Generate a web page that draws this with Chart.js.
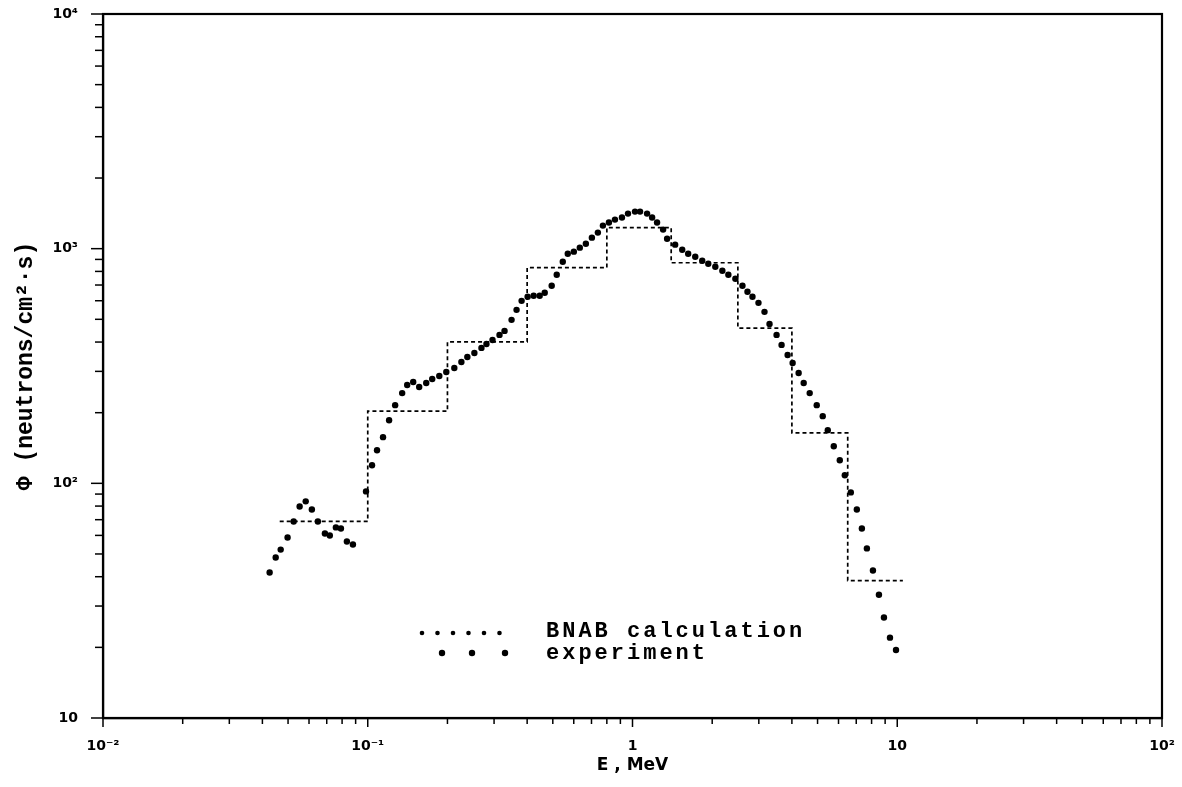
<!DOCTYPE html>
<html>
<head>
<meta charset="utf-8">
<script src="https://cdn.jsdelivr.net/npm/chart.js@4.4.1/dist/chart.umd.min.js"></script>
<style>
  html, body { margin: 0; padding: 0; background: #fff; }
  #wrap { width: 1182px; height: 787px; }
</style>
</head>
<body>
<div id="wrap"><canvas id="myChart" width="1182" height="787"></canvas></div>
<script>
// BNAB group boundaries (MeV) and group flux
var groupBounds = [0.0465, 0.1, 0.2, 0.4, 0.8, 1.4, 2.5, 4.0, 6.5, 10.5];
var groupFlux = [68.8, 203, 401, 830, 1230, 871, 459, 164, 38.5];

// experiment points
var expEnergy = [0.0426, 0.0449, 0.0469, 0.0498, 0.0525, 0.0553, 0.0583, 0.0615, 0.0648, 0.0689, 0.0719, 0.0758, 0.0792, 0.0834, 0.0879,
  0.0985, 0.1038, 0.1084, 0.1142, 0.1204, 0.1269, 0.1349, 0.1409, 0.1485, 0.1564, 0.1663, 0.1752, 0.1863, 0.198, 0.2123, 0.2258, 0.2378, 0.2528, 0.2688, 0.2808, 0.296, 0.3145, 0.3286,
  0.3493, 0.3648, 0.3812, 0.4017, 0.4233, 0.4461, 0.4661, 0.4952,
  0.5174, 0.5453, 0.5695, 0.6003, 0.6324, 0.6666, 0.7024, 0.74, 0.7731, 0.8146, 0.8585, 0.9125, 0.9616,
  1.022, 1.068, 1.135, 1.186, 1.238, 1.305, 1.351,
  1.449, 1.541, 1.623, 1.726, 1.834, 1.933, 2.055, 2.185, 2.302, 2.447, 2.602, 2.718, 2.839, 2.991, 3.152, 3.293,
  3.501, 3.657, 3.854, 4.026, 4.242, 4.432, 4.67, 4.965, 5.231, 5.465, 5.758, 6.067, 6.338, 6.678, 7.037, 7.351, 7.68, 8.094, 8.528, 8.909, 9.387, 9.892];
var expFlux = [41.7, 48.3, 52.2, 58.8, 68.8, 79.7, 83.8, 77.4, 68.8, 61.1, 59.9, 64.9, 64.2, 56.5, 54.9,
  92.4, 119.4, 138.4, 157.3, 185.8, 215.4, 242.4, 262.3, 270.2, 257.2, 267.6, 278.3, 286.7, 298.2, 310.2, 328.9, 345.5, 359.4, 377.6, 392.7, 408.4, 429.0, 446.2,
  497.4, 548.7, 599.4, 623.5, 629.6, 629.6, 648.6, 695.0,
  774.4, 880, 952, 971, 1010, 1050, 1114, 1171, 1254, 1292, 1330, 1357, 1411,
  1439, 1439, 1411, 1357, 1292, 1206, 1103,
  1040, 990, 952, 924, 888.6, 862.8, 837.7, 805.4, 774.4, 744.5, 695, 655.2, 623.5, 587.7, 538, 478,
  429, 388.9, 352.4, 325.7, 295.3, 267.6, 242.4, 215.4, 193.3, 168.5, 143.9, 125.4, 108.2, 91.5, 77.4, 64.2, 52.8, 42.5, 33.5, 26.8, 22.0, 19.5];

var xTickValues = [0.01, 0.1, 1, 10, 100];
var xTickLabels = ['10\u207B\u00B2', '10\u207B\u00B9', '1', '10', '10\u00B2'];
var yTickValues = [10, 100, 1000, 10000];
var yTickLabels = ['10', '10\u00B2', '10\u00B3', '10\u2074'];

var legendLabels = ['BNAB calculation', 'experiment'];

// histogram points from the groups
var histPoints = [];
for (var i = 0; i < groupFlux.length; i++) {
  histPoints.push({x: groupBounds[i], y: groupFlux[i]});
  histPoints.push({x: groupBounds[i + 1], y: groupFlux[i]});
}
var expPoints = [];
for (var j = 0; j < expEnergy.length; j++) {
  expPoints.push({x: expEnergy[j], y: expFlux[j]});
}

function tickLabel(v, vals, labels) {
  for (var k = 0; k < vals.length; k++) {
    if (Math.abs(Math.log10(v) - Math.log10(vals[k])) < 1e-6) return labels[k];
  }
  return '';
}

// keep the plot box where it is in the original
function noPad(s) {
  s.paddingLeft = 0;
  s.paddingRight = 0;
  s.paddingTop = 0;
  s.paddingBottom = 0;
}

// log tick marks, frame and legend
var extras = {
  id: 'extras',
  afterDraw: function(chart) {
    var ctx = chart.ctx, xs = chart.scales.x, ys = chart.scales.y, a = chart.chartArea;
    ctx.save();
    ctx.strokeStyle = '#000';
    ctx.lineWidth = 1.5;
    for (var e = -2; e <= 2; e++) {
      for (var m = 1; m <= 9; m++) {
        var v = m * Math.pow(10, e);
        if (v > 100.001) break;
        var px = xs.getPixelForValue(v);
        ctx.beginPath();
        ctx.moveTo(px, a.bottom);
        ctx.lineTo(px, a.bottom + (m == 1 ? 9 : 6));
        ctx.stroke();
      }
    }
    for (var e2 = 1; e2 <= 4; e2++) {
      for (var m2 = 1; m2 <= 9; m2++) {
        var v2 = m2 * Math.pow(10, e2);
        if (v2 > 10000.001) break;
        var py = ys.getPixelForValue(v2);
        ctx.beginPath();
        ctx.moveTo(a.left, py);
        ctx.lineTo(a.left - (m2 == 1 ? 12 : 8), py);
        ctx.stroke();
      }
    }
    // frame
    ctx.lineWidth = 2.2;
    ctx.strokeRect(a.left, a.top, a.right - a.left, a.bottom - a.top);

    // legend
    ctx.fillStyle = '#000';
    for (var d = 0; d < 6; d++) {
      ctx.beginPath();
      ctx.arc(422 + d * 15.5, 633, 2.3, 0, Math.PI * 2);
      ctx.fill();
    }
    var bigDots = [442, 472, 505];
    for (var b = 0; b < bigDots.length; b++) {
      ctx.beginPath();
      ctx.arc(bigDots[b], 653, 3.2, 0, Math.PI * 2);
      ctx.fill();
    }
    ctx.font = 'bold 22px "Liberation Mono"';
    ctx.letterSpacing = '3px';
    ctx.textBaseline = 'middle';
    ctx.textAlign = 'left';
    ctx.fillText(legendLabels[0], 546, 631);
    ctx.fillText(legendLabels[1], 546, 653);
    ctx.restore();
  }
};

var ctx = document.getElementById('myChart');
var chart = new Chart(ctx, {
  type: 'scatter',
  data: {
    datasets: [{
      label: legendLabels[0],
      data: histPoints,
      showLine: true,
      borderColor: '#000',
      borderWidth: 1.7,
      borderDash: [4, 3],
      pointRadius: 0,
      fill: false
    }, {
      label: legendLabels[1],
      data: expPoints,
      showLine: false,
      backgroundColor: '#000',
      borderColor: '#000',
      pointRadius: 3.2,
      pointBorderWidth: 0
    }]
  },
  options: {
    responsive: false,
    animation: false,
    devicePixelRatio: 1,
    layout: { padding: { top: 14, right: 20, left: 0, bottom: 0 } },
    plugins: {
      legend: { display: false },
      tooltip: { enabled: false }
    },
    scales: {
      x: {
        type: 'logarithmic',
        min: 0.01,
        max: 100,
        afterFit: function(s) { s.height = 69; noPad(s); },
        grid: { display: false, drawTicks: false },
        border: { display: true, color: '#000', width: 2.2 },
        ticks: {
          autoSkip: false,
          maxRotation: 0,
          padding: 20,
          color: '#000',
          font: { family: 'DejaVu Sans', weight: 'bold', size: 14 },
          callback: function(v) { return tickLabel(v, xTickValues, xTickLabels); }
        },
        title: {
          display: true,
          text: 'E , MeV',
          color: '#000',
          font: { family: 'DejaVu Sans', weight: 'bold', size: 17 },
          padding: { top: 0, bottom: 11 }
        }
      },
      y: {
        type: 'logarithmic',
        min: 10,
        max: 10000,
        afterFit: function(s) { s.width = 103; noPad(s); },
        grid: { display: false, drawTicks: false },
        border: { display: true, color: '#000', width: 2.2 },
        ticks: {
          autoSkip: false,
          padding: 25,
          color: '#000',
          font: { family: 'DejaVu Sans', weight: 'bold', size: 14 },
          callback: function(v) { return tickLabel(v, yTickValues, yTickLabels); }
        },
        title: {
          display: true,
          text: '\u03A6 (neutrons/cm\u00B2\u00B7s)',
          color: '#000',
          font: { family: 'Liberation Mono', weight: 'bold', size: 23 },
          padding: { top: 12, bottom: 0 }
        }
      }
    }
  },
  plugins: [extras]
});
</script>
</body>
</html>
